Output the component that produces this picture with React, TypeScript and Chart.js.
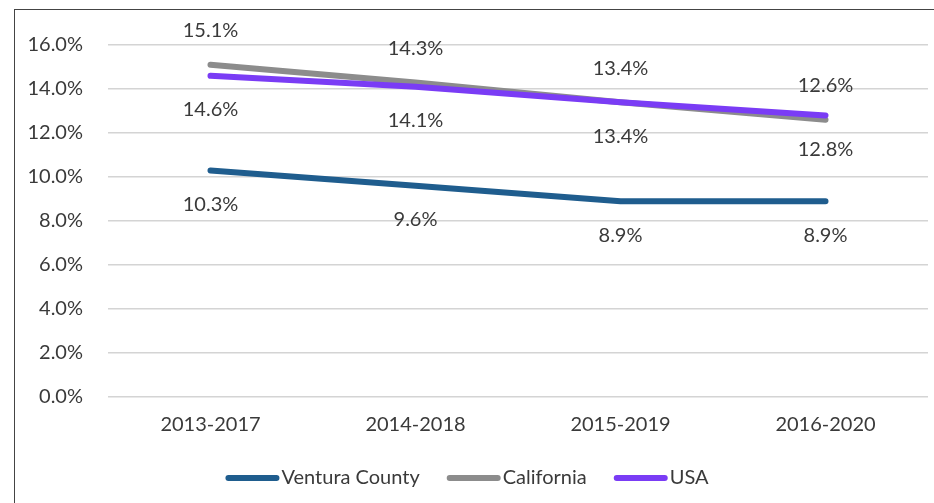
import React, { useEffect, useRef } from "react";
import { Chart, registerables } from "chart.js";

Chart.register(...registerables);

const categories = ["2013-2017", "2014-2018", "2015-2019", "2016-2020"];
const venturaValues = [10.3, 9.6, 8.9, 8.9];
const californiaValues = [15.1, 14.3, 13.4, 12.6];
const usaValues = [14.6, 14.1, 13.4, 12.8];
const seriesNames = ["Ventura County", "California", "USA"];
const seriesColors = ["#1f5d8e", "#8c8c8c", "#7a3cf5"];
// label placement: -1 above point, +1 below point
const labelSide = [1, -1, 1];

const FONT = "Lato, 'Open Sans', sans-serif";
const TEXT = "#3a3a3a";
const FS = 20;

const labelPlugin = {
  id: "valueLabels",
  afterDatasetsDraw(chart: any) {
    const ctx = chart.ctx;
    ctx.save();
    ctx.font = `${FS}px ${FONT}`;
    ctx.fillStyle = TEXT;
    ctx.textAlign = "center";
    ctx.textBaseline = "middle";
    chart.data.datasets.forEach((ds: any, di: number) => {
      const meta = chart.getDatasetMeta(di);
      meta.data.forEach((pt: any, i: number) => {
        const v = ds.data[i];
        const y = pt.y + labelSide[di] * 34;
        ctx.fillText(v.toFixed(1) + "%", pt.x, y);
      });
    });
    ctx.restore();
  },
};

const legendPlugin = {
  id: "customLegend",
  afterDraw(chart: any) {
    const ctx = chart.ctx;
    ctx.save();
    ctx.font = `${FS}px ${FONT}`;
    const lineW = 54;
    const gapText = 2;
    const gapItem = 27;
    const widths = seriesNames.map((n) => ctx.measureText(n).width);
    const total =
      widths.reduce((a, w) => a + lineW + gapText + w, 0) + gapItem * (seriesNames.length - 1);
    let x = chart.width / 2 - total / 2;
    const y = 478;
    seriesNames.forEach((n, i) => {
      ctx.strokeStyle = seriesColors[i];
      ctx.lineWidth = 6;
      ctx.lineCap = "round";
      ctx.beginPath();
      ctx.moveTo(x + 3, y);
      ctx.lineTo(x + lineW - 3, y);
      ctx.stroke();
      x += lineW + gapText;
      ctx.fillStyle = TEXT;
      ctx.textAlign = "left";
      ctx.textBaseline = "middle";
      ctx.fillText(n, x, y);
      x += widths[i] + gapItem;
    });
    ctx.restore();
  },
};

export default function App() {
  const ref = useRef<HTMLCanvasElement | null>(null);
  useEffect(() => {
    if (!ref.current) return;
    const seriesData = [venturaValues, californiaValues, usaValues];
    const orders = [2, 1, 0];
    const chart = new Chart(ref.current, {
      type: "line",
      data: {
        labels: categories,
        datasets: seriesData.map((d, i) => ({
          label: seriesNames[i],
          data: d,
          borderColor: seriesColors[i],
          backgroundColor: seriesColors[i],
          borderWidth: 6,
          borderCapStyle: "round",
          borderJoinStyle: "round",
          pointRadius: 0,
          tension: 0,
          order: orders[i],
        })),
      },
      options: {
        animation: false,
        responsive: false,
        maintainAspectRatio: false,
        layout: { padding: { left: 0, right: 6, top: 45, bottom: 0 } },
        plugins: {
          legend: { display: false },
          tooltip: { enabled: false },
        },
        scales: {
          x: {
            offset: true,
            grid: { display: false, offset: true, drawTicks: false },
            border: { display: false },
            ticks: { color: TEXT, font: { size: FS, family: FONT }, padding: 16 },
            afterFit: (s: any) => {
              s.height = 106;
            },
          },
          y: {
            min: 0,
            max: 16,
            grid: { color: "#d4d4d4", lineWidth: 1.5, drawTicks: false },
            border: { display: false },
            ticks: {
              stepSize: 2,
              color: TEXT,
              font: { size: FS, family: FONT },
              padding: 25,
              callback: (v: any) => Number(v).toFixed(1) + "%",
            },
            afterFit: (s: any) => {
              s.width = 108;
            },
          },
        },
      },
      plugins: [labelPlugin, legendPlugin],
    });
    return () => chart.destroy();
  }, []);

  return (
    <div style={{ position: "absolute", left: 0, top: 0, width: 934, height: 503, background: "#fff", overflow: "hidden" }}>
      <div
        style={{
          position: "absolute",
          left: 14,
          top: 9,
          width: 940,
          height: 520,
          borderLeft: "1.5px solid #444",
          borderTop: "1.5px solid #444",
        }}
      />
      <canvas ref={ref} width={934} height={503} style={{ position: "absolute", left: 0, top: 0 }} />
    </div>
  );
}
